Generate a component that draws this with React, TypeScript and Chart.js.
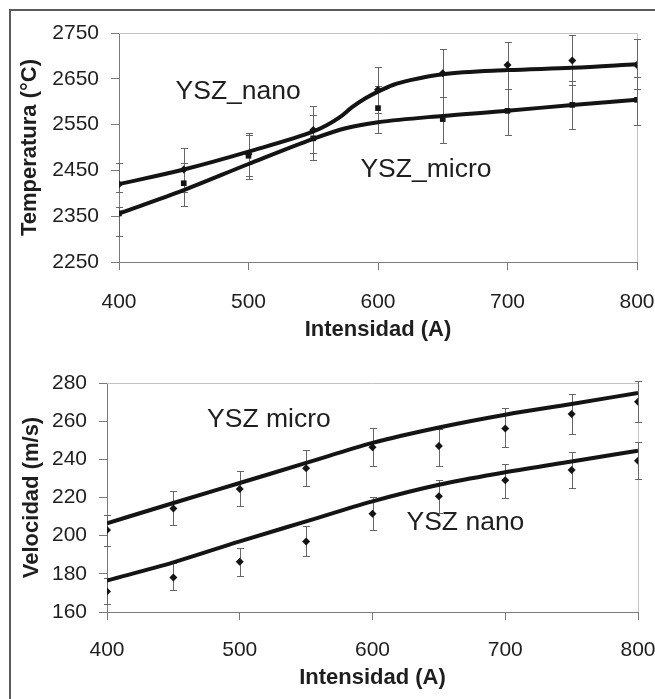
import React, { useEffect, useRef } from "react";
import { Chart, registerables } from "chart.js";

Chart.register(...registerables);

// ---------- data ----------
const intensidad = [400, 450, 500, 550, 600, 650, 700, 750, 800];

// Top chart: temperature
const tempTicks = [2250, 2350, 2450, 2550, 2650, 2750];
const tempNano = [2420, 2452, 2486, 2538, 2626, 2662, 2680, 2690, 2680];
const tempNanoLow = [2402, 2403, 2437, 2487, 2575, 2611, 2628, 2636, 2627];
const tempNanoHigh = [2466, 2467, 2532, 2591, 2675, 2714, 2731, 2746, 2736];
const tempMicro = [2356, 2422, 2482, 2520, 2586, 2562, 2580, 2593, 2604];
const tempMicroLow = [2307, 2372, 2431, 2473, 2532, 2509, 2527, 2540, 2549];
const tempMicroHigh = [2369, 2498, 2528, 2571, 2634, 2611, 2628, 2645, 2653];

const tempNanoFitX = [400, 450, 500, 550, 560, 570, 580, 590, 600, 612, 625, 650, 700, 750, 800];
const tempNanoFit = [2420, 2452, 2491, 2535, 2548, 2565, 2588, 2607, 2622, 2637, 2647, 2660, 2669, 2674, 2682];
const tempMicroFitX = [400, 450, 500, 550, 575, 600, 650, 700, 750, 800];
const tempMicroFit = [2356, 2407, 2464, 2519, 2542, 2555, 2569, 2580, 2593, 2604];

// Bottom chart: velocity
const velTicks = [160, 180, 200, 220, 240, 260, 280];
const velMicro = [203, 214.3, 224.4, 235.3, 246.3, 247, 256.2, 263.7, 270.2];
const velMicroLow = [194.4, 205.7, 215.8, 226.2, 236.3, 236.6, 246.3, 253.4, 259.4];
const velMicroHigh = [211, 223.2, 233.7, 245, 256.4, 256, 266.7, 274.2, 280.8];
const velNano = [170.8, 178.1, 186.3, 197, 211.5, 220.6, 229, 234.4, 239.3];
const velNanoLow = [164.3, 171.3, 178.9, 189.1, 203.1, 211.9, 219.5, 225.1, 229.7];
const velNanoHigh = [178, 185.7, 193.3, 204.9, 220.2, 229, 237.7, 243.8, 249.1];

const velMicroFit = [206.5, 217.1, 227.6, 238.1, 248.6, 256.7, 263.4, 269, 274.8];
const velNanoFit = [176.5, 186, 197, 207.5, 218, 226.7, 233.2, 238.9, 244.5];

// ---------- styling ----------
const FONT = "'Liberation Sans', Arial, Helvetica, sans-serif";
const TEXT = "#1e1e1e";
const AXIS = "#7a7a7a";
const FRAME = "#c4c4c4";
const ERR = "#666666";
const INK = "#141414";

type Label = { text: string; x: number; y: number };
type ErrSet = { lo: number[]; hi: number[] };

type Spec = {
  width: number;
  height: number;
  padTop: number;
  padRight: number;
  yWidth: number;
  xHeight: number;
  xTickPad: number;
  xTitlePadBottom: number;
  yTickPad: number;
  yTitlePadTop: number;
  yMin: number;
  yMax: number;
  yTicks: number[];
  yTitle: string;
  markers: { data: number[]; style: string; radius: number }[];
  fits: { xs: number[]; ys: number[] }[];
  errs: ErrSet[];
  labels: Label[];
};

function pairs(xs: number[], ys: number[]) {
  return xs.map((x, i) => ({ x, y: ys[i] }));
}

function buildChart(canvas: HTMLCanvasElement, spec: Spec) {
  const overlay = {
    id: "overlay",
    beforeDatasetsDraw(chart: any) {
      const { ctx, chartArea } = chart;
      const xs = chart.scales.x;
      const ys = chart.scales.y;
      ctx.save();
      ctx.strokeStyle = FRAME;
      ctx.lineWidth = 1;
      ctx.beginPath();
      const t = Math.round(chartArea.top) + 0.5;
      const r = Math.round(chartArea.right) + 0.5;
      ctx.moveTo(Math.round(chartArea.left), t);
      ctx.lineTo(r, t);
      ctx.lineTo(r, Math.round(chartArea.bottom));
      ctx.stroke();
      ctx.strokeStyle = ERR;
      ctx.lineWidth = 1;
      spec.errs.forEach((e) => {
        intensidad.forEach((xv, i) => {
          const px = Math.round(xs.getPixelForValue(xv)) + 0.5;
          const yl = Math.round(ys.getPixelForValue(e.lo[i])) + 0.5;
          const yh = Math.round(ys.getPixelForValue(e.hi[i])) + 0.5;
          ctx.beginPath();
          ctx.moveTo(px, yl);
          ctx.lineTo(px, yh);
          ctx.moveTo(px - 3.5, yl);
          ctx.lineTo(px + 3.5, yl);
          ctx.moveTo(px - 3.5, yh);
          ctx.lineTo(px + 3.5, yh);
          ctx.stroke();
        });
      });
      ctx.restore();
    },
    afterDatasetsDraw(chart: any) {
      const { ctx } = chart;
      const xs = chart.scales.x;
      const ys = chart.scales.y;
      ctx.save();
      ctx.fillStyle = TEXT;
      ctx.font = `26.5px ${FONT}`;
      ctx.textAlign = "center";
      ctx.textBaseline = "middle";
      spec.labels.forEach((l) => {
        ctx.fillText(l.text, xs.getPixelForValue(l.x), ys.getPixelForValue(l.y));
      });
      ctx.restore();
    },
  };

  const datasets: any[] = [];
  spec.markers.forEach((m) => {
    datasets.push({
      data: pairs(intensidad, m.data),
      showLine: false,
      pointStyle: m.style,
      pointRadius: m.radius,
      pointBackgroundColor: INK,
      pointBorderColor: INK,
      pointBorderWidth: 0,
    });
  });
  spec.fits.forEach((f) => {
    datasets.push({
      data: pairs(f.xs, f.ys),
      showLine: true,
      pointRadius: 0,
      borderColor: INK,
      borderWidth: 4,
      cubicInterpolationMode: "monotone",
      borderCapStyle: "butt",
      borderJoinStyle: "round",
      fill: false,
    });
  });

  return new Chart(canvas, {
    type: "scatter",
    data: { datasets },
    options: {
      responsive: false,
      animation: false,
      devicePixelRatio: 1,
      layout: { padding: { top: spec.padTop, right: spec.padRight, left: 0, bottom: 0 } },
      plugins: {
        legend: { display: false },
        tooltip: { enabled: false },
      },
      scales: {
        x: {
          type: "linear",
          min: 400,
          max: 800,
          ticks: {
            stepSize: 100,
            padding: spec.xTickPad,
            color: TEXT,
            font: { family: FONT, size: 21 },
            maxRotation: 0,
            callback: (v: any) => String(v),
          },
          grid: {
            drawOnChartArea: false,
            drawTicks: true,
            tickLength: 8,
            color: AXIS,
          },
          border: { color: AXIS, width: 1 },
          title: {
            display: true,
            text: "Intensidad (A)",
            color: TEXT,
            font: { family: FONT, size: 22, weight: "bold" },
            padding: { top: 0, bottom: spec.xTitlePadBottom },
          },
          afterFit: (s: any) => {
            s.height = spec.xHeight;
            s.paddingLeft = 0;
            s.paddingRight = 0;
          },
        },
        y: {
          type: "linear",
          min: spec.yMin,
          max: spec.yMax,
          afterBuildTicks: (s: any) => {
            s.ticks = spec.yTicks.map((v) => ({ value: v }));
          },
          ticks: {
            padding: spec.yTickPad,
            color: TEXT,
            font: { family: FONT, size: 21 },
            callback: (v: any) => String(v),
          },
          grid: {
            drawOnChartArea: false,
            drawTicks: true,
            tickLength: 8,
            color: AXIS,
          },
          border: { color: AXIS, width: 1 },
          title: {
            display: true,
            text: spec.yTitle,
            color: TEXT,
            font: { family: FONT, size: 22, weight: "bold" },
            padding: { top: spec.yTitlePadTop, bottom: 0 },
          },
          afterFit: (s: any) => {
            s.width = spec.yWidth;
            s.paddingTop = 0;
            s.paddingBottom = 0;
          },
        },
      },
    } as any,
    plugins: [overlay],
  });
}

const topSpec: Spec = {
  width: 655,
  height: 350,
  padTop: 33,
  padRight: 18,
  yWidth: 119,
  xHeight: 88,
  xTickPad: 20,
  xTitlePadBottom: 7,
  yTickPad: 12,
  yTitlePadTop: 17,
  yMin: 2250,
  yMax: 2750,
  yTicks: tempTicks,
  yTitle: "Temperatura (°C)",
  markers: [
    { data: tempNano, style: "rectRot", radius: 4 },
    { data: tempMicro, style: "rect", radius: 4 },
  ],
  fits: [
    { xs: tempNanoFitX, ys: tempNanoFit },
    { xs: tempMicroFitX, ys: tempMicroFit },
  ],
  errs: [
    { lo: tempNanoLow, hi: tempNanoHigh },
    { lo: tempMicroLow, hi: tempMicroHigh },
  ],
  labels: [
    { text: "YSZ_nano", x: 492, y: 2621 },
    { text: "YSZ_micro", x: 637, y: 2451 },
  ],
};

const bottomSpec: Spec = {
  width: 655,
  height: 349,
  padTop: 33,
  padRight: 17,
  yWidth: 107,
  xHeight: 87,
  xTickPad: 18,
  xTitlePadBottom: 8,
  yTickPad: 12,
  yTitlePadTop: 19,
  yMin: 160,
  yMax: 280,
  yTicks: velTicks,
  yTitle: "Velocidad (m/s)",
  markers: [
    { data: velMicro, style: "rectRot", radius: 4 },
    { data: velNano, style: "rectRot", radius: 4 },
  ],
  fits: [
    { xs: intensidad, ys: velMicroFit },
    { xs: intensidad, ys: velNanoFit },
  ],
  errs: [
    { lo: velMicroLow, hi: velMicroHigh },
    { lo: velNanoLow, hi: velNanoHigh },
  ],
  labels: [
    { text: "YSZ micro", x: 522, y: 260.8 },
    { text: "YSZ nano", x: 670, y: 206.8 },
  ],
};

export default function App() {
  const topRef = useRef<HTMLCanvasElement | null>(null);
  const botRef = useRef<HTMLCanvasElement | null>(null);

  useEffect(() => {
    const c1 = buildChart(topRef.current!, topSpec);
    const c2 = buildChart(botRef.current!, bottomSpec);
    return () => {
      c1.destroy();
      c2.destroy();
    };
  }, []);

  return (
    <div
      style={{
        position: "absolute",
        left: 0,
        top: 0,
        width: 655,
        height: 699,
        background: "#ffffff",
        overflow: "hidden",
      }}
    >
      <div
        style={{
          position: "absolute",
          left: 9,
          top: 9,
          width: 660,
          height: 700,
          borderTop: "2px solid #5a5a5a",
          borderLeft: "2px solid #5a5a5a",
          boxSizing: "border-box",
        }}
      />
      <canvas
        ref={topRef}
        width={topSpec.width}
        height={topSpec.height}
        style={{ position: "absolute", left: 0, top: 0, width: topSpec.width, height: topSpec.height }}
      />
      <canvas
        ref={botRef}
        width={bottomSpec.width}
        height={bottomSpec.height}
        style={{ position: "absolute", left: 0, top: 350, width: bottomSpec.width, height: bottomSpec.height }}
      />
    </div>
  );
}
